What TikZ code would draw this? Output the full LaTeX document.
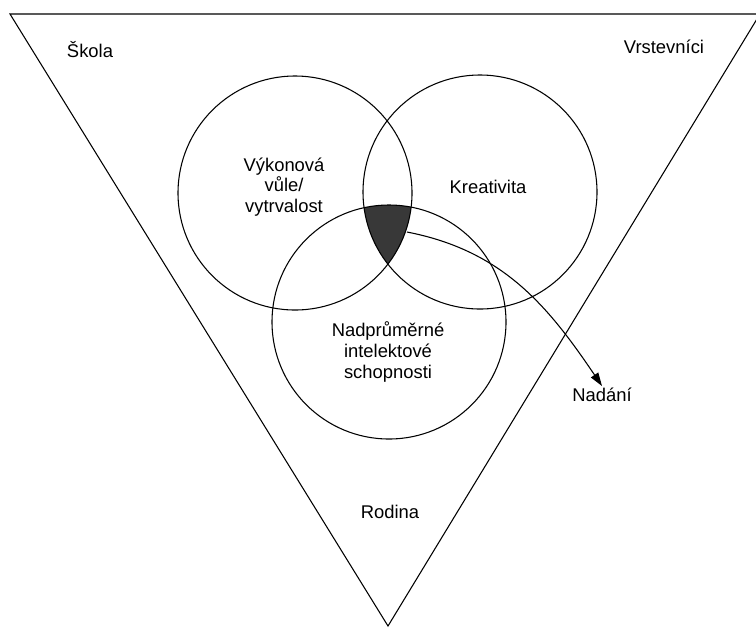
\documentclass[tikz,border=0pt]{standalone}
\usepackage{fontspec}
\setmainfont{Liberation Sans}
\usetikzlibrary{arrows.meta}
\begin{document}
\begin{tikzpicture}[x=0.75pt,y=0.75pt,
    kruh/.style={circle,draw,line width=0.8pt,minimum size=175.5pt,inner sep=0pt},
    popis/.style={align=center,inner sep=1pt,font=\fontsize{13.8}{15.6}\selectfont}]
  \useasboundingbox (0,0) rectangle (756,-633);
  \draw[line width=0.8pt] (10,-14) -- (760,-14) -- (388,-626) -- cycle;
  \begin{scope}
    \clip (295,-193) circle[radius=117];
    \clip (480,-192) circle[radius=117];
    \fill[black!78] (389,-322) circle[radius=117];
  \end{scope}
  \node[kruh] (vule) at (295,-193) {};
  \node[kruh] (tvorivost) at (480,-192) {};
  \node[kruh] (intelekt) at (389,-322) {};
  \node[popis] (skola) at (90,-50) {Škola};
  \node[popis] (vrstevnici) at (664,-47) {Vrstevníci};
  \node[popis] (vykon) at (284,-187) {Výkonová\\vůle/\\vytrvalost};
  \node[popis] (kreativita) at (488,-187) {Kreativita};
  \node[popis] (schopnosti) at (388,-352) {Nadprůměrné\\intelektové\\schopnosti};
  \node[popis] (rodina) at (390,-512) {Rodina};
  \node[popis,anchor=north] (nadani) at (602,-386) {Nadání};
  \coordinate (jadro) at (407,-232);
  \draw[line width=0.8pt,-{Triangle[length=10pt,width=6.5pt]}] (jadro) to[out=-11,in=124] (nadani.north);
\end{tikzpicture}
\end{document}
